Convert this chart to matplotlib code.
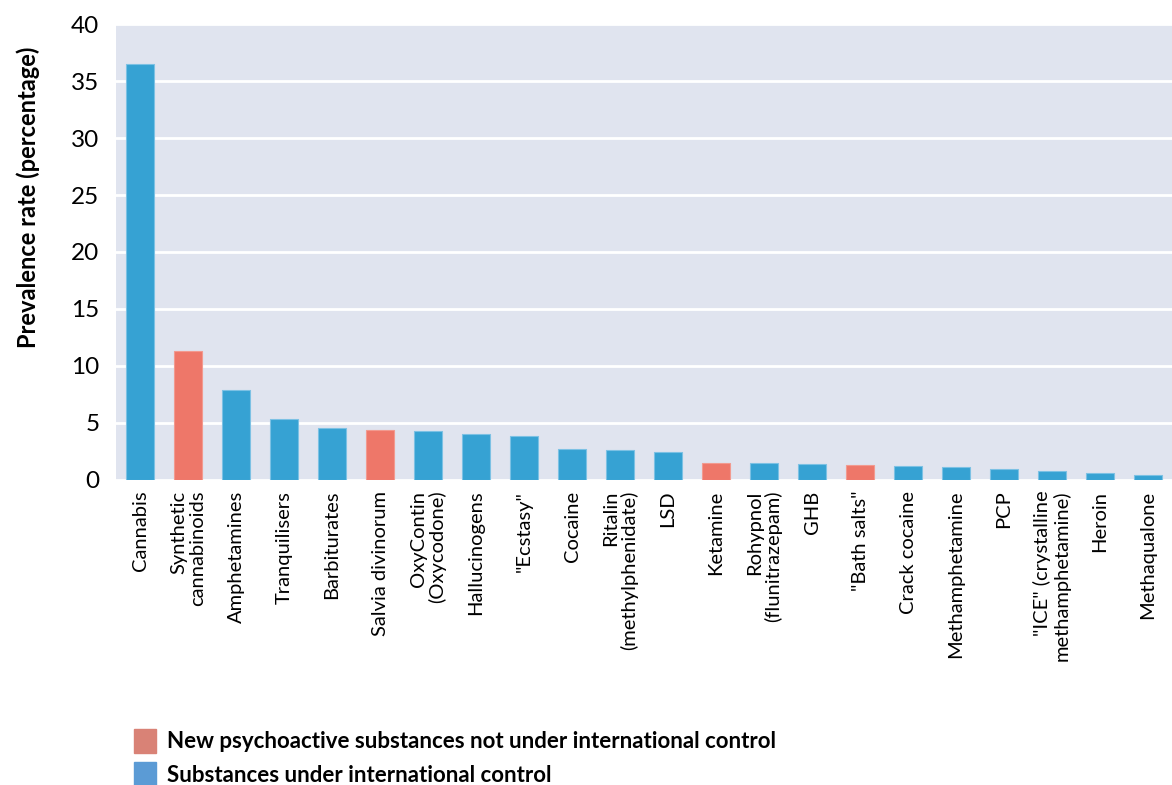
import matplotlib.pyplot as plt
import matplotlib.patches as mpatches
import numpy as np

plt.rcParams['font.family'] = ['Lato', 'DejaVu Sans']

substances = ['Cannabis', 'Synthetic\ncannabinoids', 'Amphetamines', 'Tranquilisers',
              'Barbiturates', 'Salvia divinorum', 'OxyContin\n(Oxycodone)', 'Hallucinogens',
              '"Ecstasy"', 'Cocaine', 'Ritalin\n(methylphenidate)', 'LSD', 'Ketamine',
              'Rohypnol\n(flunitrazepam)', 'GHB', '"Bath salts"', 'Crack cocaine',
              'Methamphetamine', 'PCP', '"ICE" (crystalline\nmethamphetamine)', 'Heroin',
              'Methaqualone']
prevalence = [36.5, 11.3, 7.9, 5.3, 4.5, 4.4, 4.3, 4.0, 3.8, 2.7, 2.6, 2.4, 1.5, 1.5,
              1.4, 1.3, 1.2, 1.1, 0.9, 0.8, 0.6, 0.4]
# True = new psychoactive substance not under international control
nps = [False, True, False, False, False, True, False, False, False, False, False, False,
       True, False, False, True, False, False, False, False, False, False]

blue = '#36A2D3'
red = '#EE7769'
colors = [red if n else blue for n in nps]
edges = ['#F29A8F' if n else '#7CC1E4' for n in nps]

fig = plt.figure(figsize=(11.72, 7.85), dpi=100)
ax = fig.add_axes([0.099, 0.389, 0.901, 0.580])
ax.set_facecolor('#E0E4EF')

x = np.arange(len(substances))
ax.bar(x, prevalence, width=0.6, color=colors, edgecolor=edges, linewidth=0.8, zorder=3)

ax.set_xlim(-0.5, len(substances) - 0.5)
ax.set_ylim(0, 40)
ax.set_yticks(np.arange(0, 41, 5))
ax.grid(axis='y', color='white', linewidth=2, zorder=1)
ax.set_axisbelow(True)
for s in ax.spines.values():
    s.set_visible(False)

ax.set_xticks(x)
ax.set_xticklabels(substances, rotation=90, fontsize=14.5, ha='center', va='top',
                   multialignment='right', linespacing=1.1)
ax.tick_params(axis='x', length=0, pad=8)
ax.tick_params(axis='y', length=0, labelsize=17.5, pad=12)
ax.set_ylabel('Prevalence rate (percentage)', fontsize=17, fontweight='bold')
ax.yaxis.set_label_coords(-0.072, 0.62)

handles = [mpatches.Patch(color='#D98276', label='New psychoactive substances not under international control'),
           mpatches.Patch(color='#5B9BD5', label='Substances under international control')]
fig.legend(handles=handles, loc='lower left', bbox_to_anchor=(0.097, -0.027), frameon=False,
           prop={'weight': 'bold', 'size': 16}, handlelength=1.0, handleheight=1.3,
           handletextpad=0.5, labelspacing=0.4)

plt.savefig('out.png', dpi=100)
